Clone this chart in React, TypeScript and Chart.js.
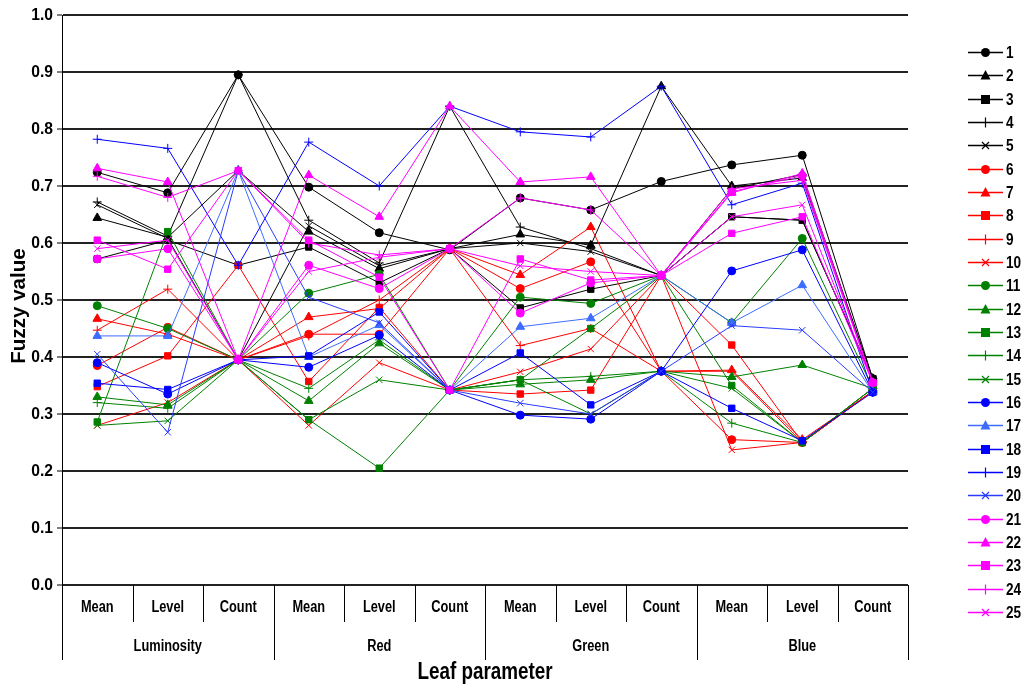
import React, { useEffect, useRef } from "react";
import { Chart, registerables } from "chart.js";

Chart.register(...registerables);

const categories = ["Mean", "Level", "Count", "Mean", "Level", "Count", "Mean", "Level", "Count", "Mean", "Level", "Count"];
const groups = ["Luminosity", "Red", "Green", "Blue"];
const yTicks = [0, 0.1, 0.2, 0.3, 0.4, 0.5, 0.6, 0.7, 0.8, 0.9, 1.0];

// values: LumMean, LumLevel, LumCount, RedMean, RedLevel, RedCount, GreenMean, GreenLevel, GreenCount, BlueMean, BlueLevel, BlueCount
const s01 = [0.724, 0.688, 0.895, 0.698, 0.618, 0.588, 0.679, 0.658, 0.708, 0.737, 0.754, 0.362];
const s02 = [0.644, 0.610, 0.727, 0.620, 0.555, 0.590, 0.615, 0.596, 0.875, 0.700, 0.714, 0.362];
const s03 = [0.572, 0.605, 0.561, 0.593, 0.530, 0.590, 0.486, 0.519, 0.543, 0.646, 0.640, 0.362];
const s04 = [0.672, 0.612, 0.895, 0.640, 0.565, 0.840, 0.628, 0.590, 0.543, 0.695, 0.720, 0.362];
const s05 = [0.667, 0.608, 0.395, 0.630, 0.560, 0.590, 0.600, 0.585, 0.543, 0.646, 0.640, 0.362];
const s06 = [0.385, 0.452, 0.395, 0.440, 0.440, 0.590, 0.520, 0.567, 0.375, 0.255, 0.250, 0.340];
const s07 = [0.467, 0.440, 0.395, 0.470, 0.485, 0.590, 0.544, 0.628, 0.375, 0.377, 0.255, 0.340];
const s08 = [0.348, 0.402, 0.561, 0.357, 0.487, 0.342, 0.335, 0.342, 0.543, 0.421, 0.250, 0.340];
const s09 = [0.447, 0.519, 0.395, 0.437, 0.500, 0.590, 0.420, 0.450, 0.375, 0.375, 0.250, 0.340];
const s10 = [0.280, 0.320, 0.395, 0.280, 0.390, 0.342, 0.374, 0.414, 0.543, 0.237, 0.250, 0.340];
const s11 = [0.490, 0.450, 0.395, 0.512, 0.545, 0.342, 0.505, 0.494, 0.543, 0.460, 0.608, 0.345];
const s12 = [0.330, 0.316, 0.395, 0.323, 0.424, 0.342, 0.352, 0.360, 0.375, 0.365, 0.386, 0.345];
const s13 = [0.286, 0.620, 0.395, 0.290, 0.205, 0.342, 0.360, 0.450, 0.543, 0.350, 0.250, 0.345];
const s14 = [0.320, 0.310, 0.395, 0.345, 0.430, 0.342, 0.360, 0.366, 0.375, 0.284, 0.250, 0.345];
const s15 = [0.280, 0.288, 0.395, 0.290, 0.360, 0.342, 0.360, 0.300, 0.375, 0.345, 0.250, 0.345];
const s16 = [0.390, 0.335, 0.395, 0.382, 0.438, 0.342, 0.298, 0.291, 0.375, 0.551, 0.588, 0.338];
const s17 = [0.437, 0.437, 0.727, 0.400, 0.456, 0.342, 0.453, 0.468, 0.543, 0.460, 0.526, 0.338];
const s18 = [0.354, 0.343, 0.395, 0.402, 0.479, 0.342, 0.407, 0.316, 0.375, 0.310, 0.253, 0.338];
const s19 = [0.782, 0.766, 0.561, 0.777, 0.700, 0.840, 0.795, 0.786, 0.875, 0.667, 0.705, 0.338];
const s20 = [0.405, 0.268, 0.727, 0.505, 0.460, 0.342, 0.319, 0.300, 0.375, 0.455, 0.447, 0.338];
const s21 = [0.572, 0.590, 0.395, 0.561, 0.520, 0.590, 0.477, 0.530, 0.543, 0.690, 0.718, 0.355];
const s22 = [0.731, 0.707, 0.395, 0.719, 0.646, 0.840, 0.707, 0.716, 0.543, 0.688, 0.722, 0.355];
const s23 = [0.605, 0.554, 0.727, 0.605, 0.540, 0.342, 0.572, 0.535, 0.543, 0.617, 0.646, 0.355];
const s24 = [0.717, 0.680, 0.727, 0.600, 0.579, 0.590, 0.679, 0.658, 0.543, 0.695, 0.710, 0.355];
const s25 = [0.590, 0.605, 0.395, 0.550, 0.575, 0.590, 0.560, 0.550, 0.543, 0.646, 0.667, 0.355];

const seriesValues = [s01, s02, s03, s04, s05, s06, s07, s08, s09, s10, s11, s12, s13, s14, s15, s16, s17, s18, s19, s20, s21, s22, s23, s24, s25];
const seriesNames = seriesValues.map((_, i) => String(i + 1));
const seriesColors = [
  "#000000", "#000000", "#000000", "#000000", "#000000",
  "#FF0000", "#FF0000", "#FF0000", "#FF0000", "#FF0000",
  "#008000", "#008000", "#008000", "#008000", "#008000",
  "#0000FF", "#3D6DFF", "#0000FF", "#0000FF", "#2A3CFF",
  "#FF00FF", "#FF00FF", "#FF00FF", "#FF00FF", "#FF00FF",
];
const markerCycle = ["circle", "triangle", "rect", "cross", "crossRot"];

const FONT = "'Liberation Sans Narrow', 'Liberation Sans', Arial, sans-serif";

function narrowText(
  ctx: CanvasRenderingContext2D,
  text: string,
  x: number,
  y: number,
  align: CanvasTextAlign,
  font: string,
  sx: number = 0.8,
  rotate: boolean = false
) {
  ctx.save();
  ctx.font = font;
  ctx.textAlign = align;
  ctx.textBaseline = "middle";
  ctx.fillStyle = "#000";
  ctx.translate(x, y);
  if (rotate) ctx.rotate(-Math.PI / 2);
  ctx.scale(sx, 1);
  ctx.fillText(text, 0, 0);
  ctx.restore();
}

function drawMarker(ctx: CanvasRenderingContext2D, style: string, x: number, y: number, color: string) {
  ctx.save();
  ctx.fillStyle = color;
  ctx.strokeStyle = color;
  ctx.lineWidth = 1.2;
  ctx.beginPath();
  if (style === "circle") {
    ctx.arc(x, y, 4.5, 0, Math.PI * 2);
    ctx.fill();
  } else if (style === "triangle") {
    ctx.moveTo(x, y - 5.5);
    ctx.lineTo(x + 5, y + 4);
    ctx.lineTo(x - 5, y + 4);
    ctx.closePath();
    ctx.fill();
  } else if (style === "rect") {
    ctx.rect(x - 4.5, y - 4.5, 9, 9);
    ctx.fill();
  } else if (style === "cross") {
    ctx.moveTo(x, y - 5);
    ctx.lineTo(x, y + 5);
    ctx.stroke();
  } else {
    ctx.moveTo(x - 3.5, y - 3.5);
    ctx.lineTo(x + 3.5, y + 3.5);
    ctx.moveTo(x + 3.5, y - 3.5);
    ctx.lineTo(x - 3.5, y + 3.5);
    ctx.stroke();
  }
  ctx.restore();
}

const decorPlugin = {
  id: "decor",
  afterDraw(chart: any) {
    const ctx: CanvasRenderingContext2D = chart.ctx;
    const xs = chart.scales.x;
    const ys = chart.scales.y;
    const area = chart.chartArea;
    const n = categories.length;
    const band = (xs.right - xs.left) / n;
    ctx.save();
    ctx.strokeStyle = "#000";
    ctx.lineWidth = 1;
    for (let i = 0; i <= n; i++) {
      const x = Math.round(xs.left + i * band) + 0.5;
      const isGroup = i % 3 === 0;
      ctx.beginPath();
      ctx.moveTo(x, area.bottom);
      ctx.lineTo(x, area.bottom + (isGroup ? 75 : 37));
      ctx.stroke();
    }

    yTicks.forEach((v) => {
      narrowText(ctx, v.toFixed(1), area.left - 9, ys.getPixelForValue(v), "right", `bold 17px ${FONT}`, 0.92);
    });
    categories.forEach((c, i) => {
      narrowText(ctx, c, xs.getPixelForValue(i), area.bottom + 23, "center", `bold 16px ${FONT}`);
    });
    groups.forEach((g, gi) => {
      const cx = xs.left + (gi * 3 + 1.5) * band;
      narrowText(ctx, g, cx, area.bottom + 62, "center", `bold 16px ${FONT}`);
    });
    narrowText(ctx, "Leaf parameter", (area.left + area.right) / 2, area.bottom + 88, "center", `bold 23px ${FONT}`, 0.82);
    narrowText(ctx, "Fuzzy value", 19, (area.top + area.bottom) / 2 + 6, "center", `bold 21px ${FONT}`, 0.98, true);

    const lx0 = 968;
    const lx1 = 1003;
    const ly0 = 52;
    const step = 23.33;
    seriesNames.forEach((name, i) => {
      const y = Math.round(ly0 + i * step) + 0.5;
      const color = seriesColors[i];
      ctx.strokeStyle = color;
      ctx.lineWidth = 1.5;
      ctx.beginPath();
      ctx.moveTo(lx0, y);
      ctx.lineTo(lx1, y);
      ctx.stroke();
      drawMarker(ctx, markerCycle[i % 5], (lx0 + lx1) / 2, y, color);
      narrowText(ctx, name, lx1 + 3, y + 1, "left", `bold 17px ${FONT}`);
    });
    ctx.restore();
  },
};

export default function App() {
  const canvasRef = useRef<HTMLCanvasElement | null>(null);

  useEffect(() => {
    if (!canvasRef.current) return;
    const datasets = seriesValues.map((vals, i) => {
      const style = markerCycle[i % 5];
      const radius = style === "triangle" ? 5 : style === "circle" ? 4 : 4.5;
      return {
        label: seriesNames[i],
        data: vals,
        borderColor: seriesColors[i],
        backgroundColor: seriesColors[i],
        borderWidth: 1,
        pointStyle: style,
        pointRadius: radius,
        pointBorderWidth: 1,
        pointBorderColor: seriesColors[i],
        pointBackgroundColor: seriesColors[i],
        tension: 0,
        fill: false,
        order: seriesValues.length - i,
      };
    });
    const chart = new Chart(canvasRef.current, {
      type: "line",
      data: { labels: categories, datasets },
      options: {
        animation: false,
        responsive: false,
        maintainAspectRatio: false,
        layout: { padding: { top: 15, right: 114, left: 0, bottom: 0 } },
        plugins: { legend: { display: false }, tooltip: { enabled: false }, title: { display: false } },
        scales: {
          x: {
            type: "category",
            offset: true,
            grid: { display: false },
            border: { display: false },
            ticks: { display: false, autoSkip: false, maxRotation: 0 },
            afterFit: (s: any) => {
              s.height = 102;
            },
          },
          y: {
            min: 0,
            max: 1,
            afterBuildTicks: (s: any) => {
              s.ticks = yTicks.map((v) => ({ value: v }));
            },
            grid: { color: "#222", lineWidth: 2, drawTicks: true, tickLength: 5, tickColor: "#000", tickWidth: 1 },
            border: { display: true, color: "#000", width: 1 },
            ticks: { display: false },
            afterFit: (s: any) => {
              s.width = 62;
            },
          },
        },
      },
      plugins: [decorPlugin],
    } as any);
    return () => chart.destroy();
  }, []);

  return (
    <div style={{ position: "absolute", left: 0, top: 0, width: 1022, height: 687, background: "#fff" }}>
      <canvas ref={canvasRef} width={1022} height={687} style={{ width: 1022, height: 687 }} />
    </div>
  );
}
